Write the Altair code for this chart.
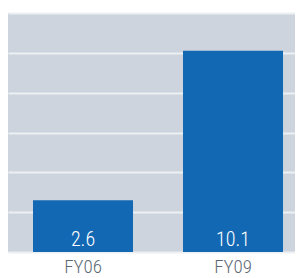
import altair as alt
import pandas as pd

categories = ["FY06", "FY09"]
values = [2.6, 10.1]
labels = ["2.6", "10.1"]

df = pd.DataFrame({"cat": categories, "val": values, "lab": labels})

FONT = "Roboto Condensed, DejaVu Sans Condensed, Liberation Sans Narrow, Roboto, sans-serif"

x = alt.X("cat:N", sort=categories, title=None,
          scale=alt.Scale(paddingInner=1/3, paddingOuter=0.1233, align=0.676),
          axis=alt.Axis(labelAngle=0, ticks=False, domain=False, labelPadding=5,
                        labelFontSize=19, labelColor="#5d6a76", labelFont=FONT,
                        labelFontWeight=300, grid=False))
y = alt.Y("val:Q", title=None,
          scale=alt.Scale(domain=[0, 12], nice=False),
          axis=alt.Axis(values=[0, 2, 4, 6, 8, 10, 12], labels=False, ticks=False,
                        domain=False, grid=True, gridColor="#edf0f3", gridWidth=2))

bars = alt.Chart(df).mark_bar(color="#1368b3").encode(x=x, y=y)
text = alt.Chart(df).mark_text(color="white", fontSize=20, font=FONT, fontWeight=300,
                               baseline="alphabetic", dy=-6).encode(
    x=alt.X("cat:N", sort=categories),
    y=alt.value(239),
    text="lab:N")

chart = alt.layer(bars, text).properties(
    width=287, height=239,
    padding={"top": 5, "left": 0, "right": 0, "bottom": 0}
).configure_view(fill="#cdd4dd", stroke=None)

chart.save("out.html", embed_options={"renderer": "svg", "actions": False})
